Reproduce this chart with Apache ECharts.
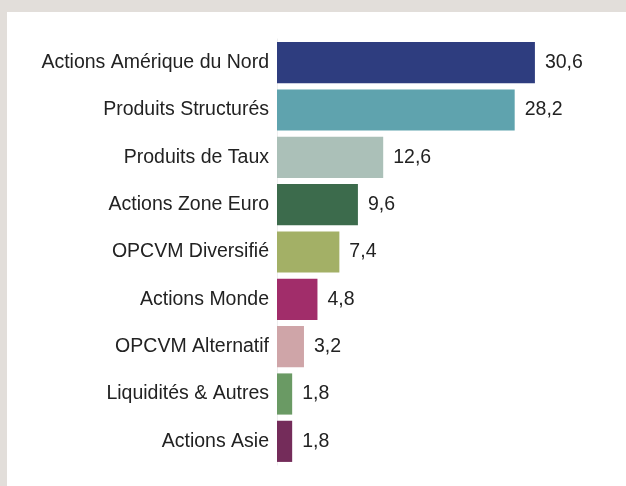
<!DOCTYPE html>
<html>
<head>
<meta charset="utf-8">
<script src="https://cdn.jsdelivr.net/npm/echarts@6/dist/echarts.min.js"></script>
<style>
html, body { margin: 0; padding: 0; background: #e2deda; width: 626px; height: 486px; overflow: hidden; }
#chart { position: absolute; left: 7px; top: 12px; width: 619px; height: 474px; background: #ffffff; }
</style>
</head>
<body>
<div id="chart"></div>
<script>
var categories = ['Actions Amérique du Nord', 'Produits Structurés', 'Produits de Taux', 'Actions Zone Euro',
	'OPCVM Diversifié', 'Actions Monde', 'OPCVM Alternatif', 'Liquidités & Autres', 'Actions Asie'];
var values = [30.6, 28.2, 12.6, 9.6, 7.4, 4.8, 3.2, 1.8, 1.8];
var colors = ['#2e3d7f', '#5fa3ae', '#abc0b8', '#3c6b4c', '#a3b066', '#a12d6a', '#cfa5a8', '#6a9a64', '#742c5a'];

var chart = echarts.init(document.getElementById('chart'));

// une couleur par barre
var barData = [];
for (var i = 0; i < values.length; i++) {
	barData.push({ value: values[i], itemStyle: { color: colors[i] } });
}

var option = {
	animation: false,
	textStyle: { fontFamily: 'Liberation Sans, Arial, sans-serif' },
	grid: {
		left: 270,
		top: 27,
		bottom: 21,
		width: 295
	},
	xAxis: {
		type: 'value',
		min: 0,
		max: 35,
		show: false
	},
	yAxis: {
		type: 'category',
		inverse: true,
		data: categories,
		axisLine: { show: true, lineStyle: { color: '#eeeeee', width: 1 } },
		axisTick: { show: false },
		axisLabel: {
			margin: 8,
			fontSize: 19.5,
			color: '#222222',
			padding: [4, 0, 0, 0]
		}
	},
	series: [{
		type: 'bar',
		data: barData,
		barCategoryGap: '13%',
		label: {
			show: true,
			position: 'right',
			distance: 10,
			fontSize: 19.5,
			color: '#222222',
			padding: [4, 0, 0, 0],
			formatter: function(p) {
				return p.value.toFixed(1).replace('.', ',');
			}
		}
	}]
};
chart.setOption(option);
</script>
</body>
</html>
